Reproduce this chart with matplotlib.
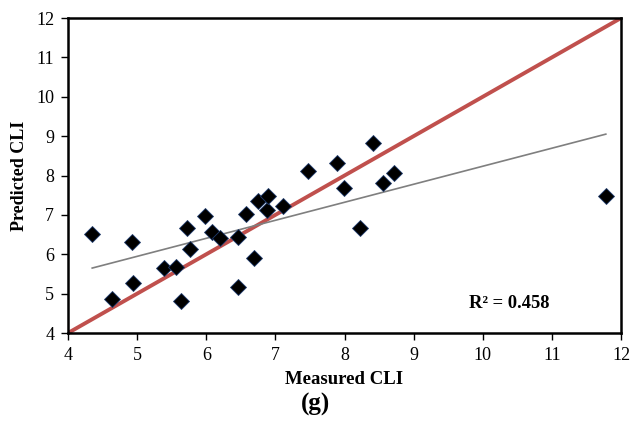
import numpy as np
import matplotlib
matplotlib.use("Agg")
import matplotlib.pyplot as plt

plt.rcParams['font.family'] = ['Liberation Serif', 'DejaVu Serif']

measured = [4.35, 4.64, 4.93, 4.94, 5.39, 5.56, 5.63, 5.72, 5.76, 5.98,
            6.08, 6.20, 6.46, 6.46, 6.58, 6.69, 6.75, 6.88, 6.89, 7.11,
            7.47, 7.89, 7.99, 8.22, 8.41, 8.56, 8.72, 11.78]
predicted = [6.51, 4.86, 6.31, 5.27, 5.65, 5.68, 4.81, 6.67, 6.13, 6.97,
             6.57, 6.41, 5.17, 6.44, 7.02, 5.90, 7.35, 7.12, 7.48, 7.23,
             8.11, 8.32, 7.68, 6.67, 8.83, 7.81, 8.06, 7.48]
ticks = [4, 5, 6, 7, 8, 9, 10, 11, 12]
r2_label = "R² = 0.458"

x = np.array(measured)
y = np.array(predicted)

fig = plt.figure(figsize=(6.31, 4.24), dpi=100)
ax = fig.add_axes([0.1078, 0.2146, 0.8764, 0.7429])

# 1:1 line
ax.plot([4, 12], [4, 12], color='#c0504d', lw=2.8, zorder=2)

# linear trend over the measured range
slope, intercept = np.polyfit(x, y, 1)
xr = np.array([x.min(), x.max()])
ax.plot(xr, slope * xr + intercept, color='#7f7f7f', lw=1.2, zorder=3)

ax.plot(x, y, linestyle='none', marker='D', markersize=8.2,
        markerfacecolor='black', markeredgecolor='#1f3b6e',
        markeredgewidth=0.6, zorder=4)

ax.set_xlim(4, 12)
ax.set_ylim(4, 12)
ax.set_xticks(ticks)
ax.set_yticks(ticks)
ax.tick_params(direction='out', length=5, width=1, labelsize=13, pad=5)
for s in ax.spines.values():
    s.set_linewidth(1.8)

ax.set_xlabel("Measured CLI", fontsize=13.5, fontweight='bold', labelpad=5)
ax.set_ylabel("Predicted CLI", fontsize=13, fontweight='bold', labelpad=6)

ax.text(0.797, 0.095, r2_label, transform=ax.transAxes, ha='center',
        va='center', fontsize=13.3, fontweight='bold')
fig.text(0.5, 0.045, "(g)", ha='center', va='center', fontsize=18,
         fontweight='bold')

fig.savefig("out.png", dpi=100)
